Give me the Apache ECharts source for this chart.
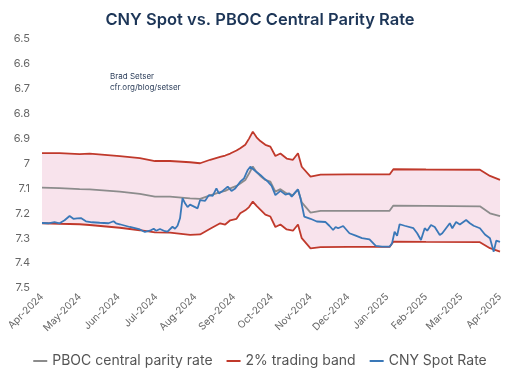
<!DOCTYPE html>
<html><head><meta charset="utf-8">
<script src="https://cdn.jsdelivr.net/npm/echarts@6/dist/echarts.min.js"></script>
<style>html,body{margin:0;padding:0;background:#fff}#c{width:520px;height:378px}</style>
</head><body><div id="c"></div>
<script>
// ---- Data ----
const bandDates = ['2024-04-01','2024-04-15','2024-05-01','2024-05-09','2024-06-02','2024-06-18','2024-06-30','2024-07-12','2024-07-28','2024-08-05','2024-08-13','2024-08-21','2024-08-25','2024-08-29','2024-09-03','2024-09-06','2024-09-10','2024-09-13','2024-09-16','2024-09-19','2024-09-22','2024-09-26','2024-09-30','2024-10-04','2024-10-08','2024-10-13','2024-10-18','2024-10-22','2024-10-25','2024-11-01','2024-11-09','2024-12-01','2025-01-03','2025-01-06','2025-02-01','2025-03-16','2025-03-24','2025-04-01'];
const upperBand = [6.958,6.958,6.962,6.960,6.970,6.978,6.990,6.990,6.995,6.999,6.985,6.973,6.968,6.960,6.948,6.939,6.925,6.900,6.872,6.895,6.910,6.925,6.932,6.970,6.960,6.980,6.985,6.959,7.013,7.053,7.045,7.044,7.044,7.023,7.024,7.025,7.050,7.066];
const parityRate = [7.097,7.099,7.103,7.104,7.113,7.122,7.133,7.133,7.140,7.142,7.128,7.115,7.110,7.100,7.090,7.080,7.066,7.040,7.012,7.035,7.050,7.066,7.073,7.113,7.103,7.120,7.127,7.104,7.156,7.197,7.190,7.190,7.190,7.169,7.170,7.172,7.200,7.211];
const lowerBand = [7.240,7.242,7.244,7.247,7.258,7.268,7.277,7.278,7.287,7.285,7.262,7.240,7.245,7.228,7.222,7.200,7.188,7.175,7.153,7.170,7.185,7.205,7.213,7.255,7.245,7.265,7.270,7.245,7.300,7.341,7.336,7.335,7.335,7.314,7.315,7.316,7.340,7.354];

const spotDates = ['2024-04-01','2024-04-06','2024-04-11','2024-04-15','2024-04-19','2024-04-23','2024-04-26','2024-04-29','2024-05-02','2024-05-06','2024-05-11','2024-05-17','2024-05-24','2024-05-28','2024-05-30','2024-06-02','2024-06-10','2024-06-18','2024-06-22','2024-06-26','2024-06-29','2024-07-01','2024-07-04','2024-07-08','2024-07-10','2024-07-14','2024-07-16','2024-07-18','2024-07-20','2024-07-22','2024-07-24','2024-07-26','2024-07-28','2024-07-30','2024-08-03','2024-08-05','2024-08-09','2024-08-12','2024-08-15','2024-08-18','2024-08-20','2024-08-23','2024-08-27','2024-08-30','2024-09-02','2024-09-06','2024-09-09','2024-09-12','2024-09-14','2024-09-18','2024-09-22','2024-09-25','2024-09-28','2024-10-01','2024-10-04','2024-10-08','2024-10-12','2024-10-15','2024-10-17','2024-10-20','2024-10-22','2024-10-24','2024-10-27','2024-11-01','2024-11-06','2024-11-13','2024-11-16','2024-11-19','2024-11-21','2024-11-23','2024-11-27','2024-12-02','2024-12-07','2024-12-12','2024-12-18','2024-12-23','2024-12-28','2025-01-03','2025-01-05','2025-01-07','2025-01-09','2025-01-11','2025-01-15','2025-01-22','2025-01-25','2025-01-28','2025-01-31','2025-02-02','2025-02-05','2025-02-08','2025-02-12','2025-02-14','2025-02-20','2025-02-22','2025-02-25','2025-02-28','2025-03-05','2025-03-08','2025-03-11','2025-03-16','2025-03-20','2025-03-24','2025-03-27','2025-03-29','2025-04-01'];
const spotRate = [7.239,7.240,7.235,7.240,7.228,7.211,7.222,7.220,7.219,7.232,7.236,7.238,7.240,7.232,7.240,7.244,7.255,7.265,7.275,7.270,7.262,7.270,7.263,7.272,7.274,7.254,7.262,7.250,7.220,7.139,7.160,7.175,7.165,7.170,7.180,7.147,7.150,7.127,7.130,7.100,7.120,7.110,7.093,7.110,7.100,7.073,7.060,7.026,7.013,7.030,7.046,7.060,7.073,7.090,7.127,7.110,7.125,7.120,7.133,7.115,7.104,7.140,7.213,7.222,7.233,7.235,7.250,7.267,7.255,7.260,7.251,7.280,7.290,7.300,7.305,7.331,7.334,7.334,7.320,7.274,7.290,7.244,7.250,7.260,7.280,7.307,7.260,7.270,7.247,7.255,7.287,7.280,7.240,7.260,7.235,7.245,7.227,7.240,7.250,7.260,7.285,7.300,7.354,7.310,7.315];

const axisStart = '2024-04-01';
const axisEnd = '2025-04-01';
const yMin = 6.5, yMax = 7.5, yStep = 0.1;
const monthNames = ['Jan','Feb','Mar','Apr','May','Jun','Jul','Aug','Sep','Oct','Nov','Dec'];

// ---- Build daily category axis ----
const categories = [];
(function(){
  const s = Date.parse(axisStart + 'T00:00:00Z'), e = Date.parse(axisEnd + 'T00:00:00Z');
  for (let t = s; t <= e; t += 86400000) categories.push(new Date(t).toISOString().slice(0,10));
})();
const pair = (ds, vs) => ds.map((d,i) => [d, vs[i]]);

const RED = '#c0392b', BLUE = '#3a78b8', GREY = '#8c8c8c', PINK = '#f8e3ec';
const FONT = 'Inter, "Noto Sans", sans-serif';

const chart = echarts.init(document.getElementById('c'), null, {renderer:'canvas'});
chart.setOption({
  animation: false,
  backgroundColor: '#fff',
  title: {
    text: 'CNY Spot vs. PBOC Central Parity Rate',
    left: 'center', top: 7,
    textStyle: {fontFamily: FONT, fontSize: 16.5, fontWeight: 600, color: '#1c3557'}
  },
  graphic: [{
    type: 'text', left: 110, top: 71,
    style: {text: 'Brad Setser\ncfr.org/blog/setser', fontFamily: FONT, fontSize: 8, lineHeight: 11, fill: '#2c3e5a'}
  }],
  legend: {
    data: ['PBOC central parity rate', '2% trading band', 'CNY Spot Rate'],
    bottom: 5, left: 'center',
    icon: 'rect', itemWidth: 14, itemHeight: 2, itemGap: 14,
    textStyle: {fontFamily: FONT, fontSize: 14, color: '#555'}
  },
  grid: {left: 42, right: 20, top: 39, bottom: 90},
  xAxis: {
    type: 'category', data: categories, boundaryGap: false,
    axisLine: {show: false}, axisTick: {show: false}, splitLine: {show: false},
    axisLabel: {
      interval: (idx, val) => val.slice(8) === '01',
      formatter: v => monthNames[+v.slice(5,7) - 1] + '-' + v.slice(0,4),
      rotate: 45, margin: 7, fontFamily: FONT, fontSize: 10, color: '#666'
    }
  },
  yAxis: {
    type: 'value', inverse: true, min: yMin, max: yMax, interval: yStep,
    axisLine: {show: false}, axisTick: {show: false}, splitLine: {show: false},
    axisLabel: {margin: 12, fontFamily: FONT, fontSize: 11, color: '#666'}
  },
  series: [
    {name: 'bandBase', type: 'line', stack: 'band', data: pair(bandDates, upperBand),
     showSymbol: false, silent: true, lineStyle: {width: 0, opacity: 0}, z: 1},
    {name: 'bandFill', type: 'line', stack: 'band', data: pair(bandDates, lowerBand.map((v,i) => v - upperBand[i])),
     showSymbol: false, silent: true, lineStyle: {width: 0, opacity: 0}, areaStyle: {color: PINK, opacity: 1}, z: 1},
    {name: 'PBOC central parity rate', type: 'line', data: pair(bandDates, parityRate),
     showSymbol: false, color: GREY, lineStyle: {width: 1.8, color: GREY}, z: 3},
    {name: '2% trading band', type: 'line', data: pair(bandDates, upperBand),
     showSymbol: false, color: RED, lineStyle: {width: 1.8, color: RED}, z: 3},
    {name: '2% trading band', type: 'line', data: pair(bandDates, lowerBand),
     showSymbol: false, color: RED, lineStyle: {width: 1.8, color: RED}, z: 3},
    {name: 'CNY Spot Rate', type: 'line', data: pair(spotDates, spotRate),
     showSymbol: false, color: BLUE, lineStyle: {width: 1.8, color: BLUE}, z: 4}
  ]
});
</script>
</body></html>
